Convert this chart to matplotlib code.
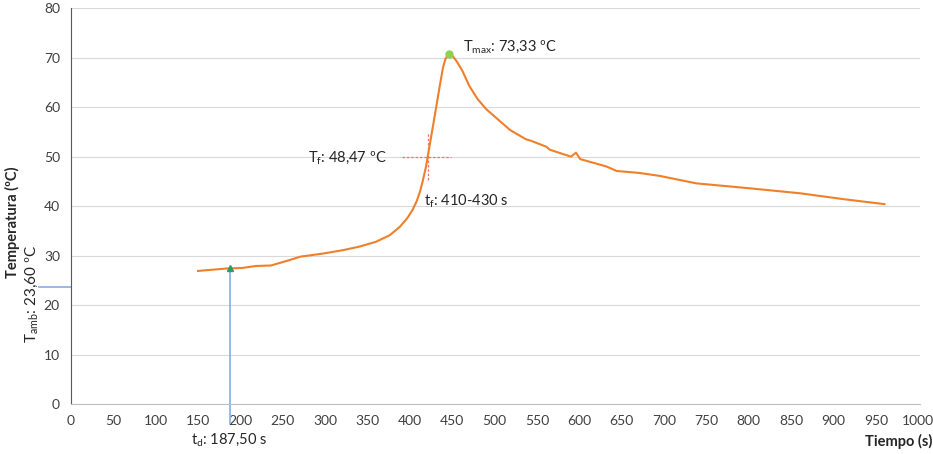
import matplotlib
matplotlib.use("Agg")
import matplotlib.pyplot as plt

plt.rcParams['font.family'] = ['Lato', 'DejaVu Sans']

# Data
time_s = [150, 184, 202, 218, 236, 244, 258, 271, 297, 321, 340, 360, 376, 388,
          397, 403, 408, 412, 415, 419, 423, 427, 431, 435, 439, 442, 446, 450,
          455, 462, 470, 480, 490, 506, 518, 537, 543, 561, 565, 590, 596, 601,
          632, 644, 671, 695, 738, 801, 860, 912, 960]
temp_c = [26.9, 27.4, 27.5, 27.9, 28.0, 28.4, 29.1, 29.8, 30.4, 31.1, 31.8, 32.8,
          34.1, 35.8, 37.6, 39.2, 41.0, 43.0, 45.0, 48.0, 52.0, 56.0, 60.0, 64.1,
          68.0, 69.8, 70.7, 70.4, 69.3, 67.3, 64.3, 61.6, 59.6, 57.2, 55.4, 53.5,
          53.2, 52.0, 51.4, 50.0, 50.8, 49.5, 48.0, 47.1, 46.7, 46.1, 44.6, 43.6,
          42.6, 41.4, 40.4]

t_d = 187.5
T_d = 27.4
T_amb = 23.60
t_peak = 446
T_peak = 70.7
T_f = 50.0
t_f = 421
tf_hline = [391, 449]
tf_vline = [45.2, 54.7]

x_ticks = list(range(0, 1001, 50))
y_ticks = list(range(0, 81, 10))

fig = plt.figure(figsize=(9.33, 4.54), dpi=100)
ax = fig.add_axes([0.0761, 0.110, 0.910, 0.872])

ax.set_xlim(0, 1002)
ax.set_ylim(0, 80)
ax.set_xticks(x_ticks)
ax.set_yticks(y_ticks)
ax.tick_params(length=0, labelsize=10, colors='#404040', pad=8)
ax.yaxis.grid(True, color='#d9d9d9', lw=0.8)
ax.set_axisbelow(True)
for s in ['top', 'right']:
    ax.spines[s].set_visible(False)
ax.spines['left'].set_color('#595959')
ax.spines['left'].set_linewidth(0.8)
ax.spines['bottom'].set_color('#bfbfbf')
ax.spines['bottom'].set_linewidth(0.8)

# blue reference lines
ax.plot([t_d, t_d], [T_d, -3.8], color='#8db3e2', lw=1.3, clip_on=False, zorder=2)
ax.plot([-38, 0], [T_amb, T_amb], color='#8db3e2', lw=1.3, clip_on=False, zorder=2)

# Tf cross (dotted red)
ax.plot(tf_hline, [T_f, T_f], color='#ff6b6b', lw=0.9, ls=(0, (2, 1.5)), zorder=2)
ax.plot([t_f, t_f], tf_vline, color='#ff6b6b', lw=0.9, ls=(0, (2, 1.5)), zorder=2)

ax.plot(time_s, temp_c, color='#f07f2a', lw=1.5, zorder=3)

ax.plot([t_d], [T_d], marker='^', ms=4, color='#2f9a6a', zorder=4)
ax.plot([t_peak], [T_peak], marker='o', ms=5, color='#92d050', zorder=4)

ax.text(463, 72.0, r'T$_{\mathregular{max}}$: 73,33 ºC', fontsize=10.5, color='#262626',
        ha='left', va='center')
ax.text(372, 49.6, r'T$_{\mathregular{f}}$: 48,47 ºC', fontsize=10.5, color='#262626',
        ha='right', va='center')
ax.text(417, 41.0, r't$_{\mathregular{f}}$: 410-430 s', fontsize=10.5, color='#262626',
        ha='left', va='center')
ax.text(142, -7.4, r't$_{\mathregular{d}}$: 187,50 s', fontsize=10.5, color='#262626',
        ha='left', va='center', clip_on=False)

fig.text(0.035, 0.352, r'T$_{\mathregular{amb}}$: 23,60 ºC', rotation=90, fontsize=11,
         color='#262626', ha='center', va='center')
fig.text(0.013, 0.511, 'Temperatura (ºC)', rotation=90, fontsize=10.5, fontweight='bold',
         color='#262626', ha='center', va='center')
fig.text(0.999, 0.028, 'Tiempo (s)', fontsize=10.5, fontweight='bold',
         color='#262626', ha='right', va='center')

fig.savefig('out.png', dpi=100)
